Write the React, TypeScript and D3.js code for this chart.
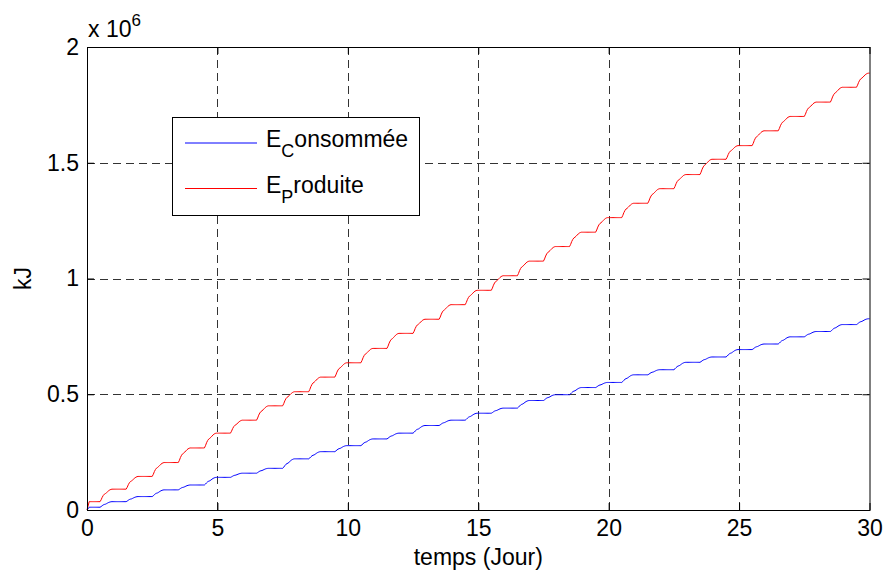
import React, { useEffect, useRef } from 'react';
import * as d3 from 'd3';

// daily levels (kJ), value during the flat part of each day 0..30
const produiteLevels = [
  36000, 90000, 145000, 205000, 268000, 332000, 388000, 450000, 511000, 574000,
  636000, 698000, 763000, 824000, 887000, 949000, 1012000, 1075000, 1138000, 1200000,
  1263000, 1325000, 1388000, 1449000, 1515000, 1574000, 1638000, 1700000, 1762000, 1826000,
  1887000,
];
const consommeeLevels = [
  12000, 36000, 58000, 87000, 108000, 141000, 159000, 180000, 221000, 252000,
  278000, 307000, 332000, 365000, 388000, 418000, 440000, 473000, 498000, 529000,
  551000, 584000, 606000, 638000, 661000, 693000, 717000, 748000, 771000, 801000,
  826000,
];

// share of the day's gain reached at each hour 0..24 (shape of one daily step)
const produiteProfile = [0, 0, 0, 0, 0, 0, 0, 0, 0, 0, 0, 0, 0, 0.15, 0.35, 0.5, 0.6, 0.65, 0.72, 0.8, 0.88, 0.94, 0.98, 1, 1];
const consommeeProfile = [0, 0, 0, 0, 0, 0, 0, 0, 0, 0, 0, 0, 0, 0.12, 0.28, 0.42, 0.5, 0.55, 0.65, 0.76, 0.86, 0.93, 0.98, 1, 1];

const xTicks = [0, 5, 10, 15, 20, 25, 30];
const yTicks = [0, 500000, 1000000, 1500000, 2000000];
const yTickLabels = ['0', '0.5', '1', '1.5', '2'];

const series = [
  { name: 'E', sub: 'C', rest: 'onsommée', color: '#0000ff', levels: consommeeLevels, profile: consommeeProfile },
  { name: 'E', sub: 'P', rest: 'roduite', color: '#ff0000', levels: produiteLevels, profile: produiteProfile },
];

const buildPoints = (levels: number[], profile: number[]) => {
  const pts: [number, number][] = [[0, 0]];
  for (let k = 0; k < levels.length - 1; k++) {
    for (let h = k === 0 ? 2 : 1; h <= 24; h++) {
      pts.push([k + h / 24, levels[k] + profile[h] * (levels[k + 1] - levels[k])]);
    }
  }
  return pts;
};

const FONT = '"Liberation Sans", Arial, Helvetica, sans-serif';

const Chart = ({ width = 883, height = 575 }) => {
  const ref = useRef<SVGSVGElement>(null);

  useEffect(() => {
    const margin = { top: 47, right: 13.5, bottom: 65, left: 87 };
    const svg = d3.select(ref.current).attr('width', width).attr('height', height);
    svg.selectAll('*').remove();

    const x = d3.scaleLinear().domain([0, 30]).range([margin.left, width - margin.right]);
    const y = d3.scaleLinear().domain([0, 2000000]).range([height - margin.bottom, margin.top]);
    const [x0, x1] = x.range();
    const [y0, y1] = y.range();

    svg.append('rect').attr('width', width).attr('height', height).attr('fill', '#fff');

    // grid
    const grid = svg.append('g').attr('stroke', '#333').attr('stroke-width', 1).attr('stroke-dasharray', '8,5');
    grid.selectAll('.gx').data(xTicks.slice(1, -1)).enter().append('line')
      .attr('x1', d => Math.round(x(d)) + 0.5).attr('x2', d => Math.round(x(d)) + 0.5)
      .attr('y1', y0).attr('y2', y1);
    grid.selectAll('.gy').data(yTicks.slice(1, -1)).enter().append('line')
      .attr('y1', d => Math.round(y(d)) + 0.5).attr('y2', d => Math.round(y(d)) + 0.5)
      .attr('x1', x0).attr('x2', x1);

    // series
    const line = d3.line<[number, number]>().x(d => x(d[0])).y(d => y(d[1]));
    series.forEach(s => {
      svg.append('path')
        .datum(buildPoints(s.levels, s.profile))
        .attr('fill', 'none')
        .attr('stroke', s.color)
        .attr('stroke-width', 1)
        .attr('d', line);
    });

    // axes, ticks pointing inward
    const styleAxis = (g: any) => {
      g.select('.domain').remove();
      g.selectAll('.tick line').attr('stroke', '#000');
      g.selectAll('.tick text').attr('font-family', FONT).attr('font-size', 23).attr('fill', '#000');
    };
    svg.append('g').attr('transform', `translate(0,${y0})`)
      .call(d3.axisBottom(x).tickValues(xTicks).tickSize(-7).tickPadding(10).tickFormat(d3.format('d')))
      .call(styleAxis);
    svg.append('g').attr('transform', `translate(0,${y1})`)
      .call(d3.axisTop(x).tickValues(xTicks).tickSize(-7).tickFormat(() => ''))
      .call(styleAxis);
    svg.append('g').attr('transform', `translate(${x0},0)`)
      .call(d3.axisLeft(y).tickValues(yTicks).tickSize(-7).tickPadding(8).tickFormat((d, i) => yTickLabels[i]))
      .call(styleAxis);
    svg.append('g').attr('transform', `translate(${x1},0)`)
      .call(d3.axisRight(y).tickValues(yTicks).tickSize(-7).tickFormat(() => ''))
      .call(styleAxis);

    svg.append('rect')
      .attr('x', x0 + 0.5).attr('y', y1 + 0.5)
      .attr('width', x1 - x0).attr('height', y0 - y1)
      .attr('fill', 'none').attr('stroke', '#000').attr('stroke-width', 1);

    // exponent
    const exp = svg.append('text').attr('x', 88).attr('y', 37)
      .attr('font-family', FONT).attr('font-size', 23).attr('fill', '#000');
    exp.append('tspan').text('x 10');
    exp.append('tspan').attr('font-size', 17).attr('dy', -11).text('6');

    // labels
    svg.append('text')
      .attr('x', (x0 + x1) / 2).attr('y', 565)
      .attr('text-anchor', 'middle')
      .attr('font-family', FONT).attr('font-size', 23)
      .text('temps (Jour)');
    svg.append('text')
      .attr('transform', `translate(31,${(y0 + y1) / 2}) rotate(-90)`)
      .attr('text-anchor', 'middle')
      .attr('font-family', FONT).attr('font-size', 23)
      .text('kJ');

    // legend
    const lg = svg.append('g');
    lg.append('rect')
      .attr('x', 172.5).attr('y', 117.5).attr('width', 247).attr('height', 98)
      .attr('fill', '#fff').attr('stroke', '#000').attr('stroke-width', 1);
    series.forEach((s, i) => {
      const ly = 143 + i * 45.5;
      lg.append('line')
        .attr('x1', 185).attr('x2', 257).attr('y1', ly).attr('y2', ly)
        .attr('stroke', s.color).attr('stroke-width', 1);
      const t = lg.append('text').attr('x', 266).attr('y', ly + 4)
        .attr('font-family', FONT).attr('font-size', 23).attr('fill', '#000');
      t.append('tspan').text(s.name);
      t.append('tspan').attr('font-size', 18).attr('dy', 10).text(s.sub);
      t.append('tspan').attr('font-size', 23).attr('dy', -10).text(s.rest);
    });
  }, [width, height]);

  return <svg ref={ref} style={{ position: 'absolute', left: 0, top: 0, display: 'block' }}></svg>;
};

export default function App() {
  return <Chart />;
}
